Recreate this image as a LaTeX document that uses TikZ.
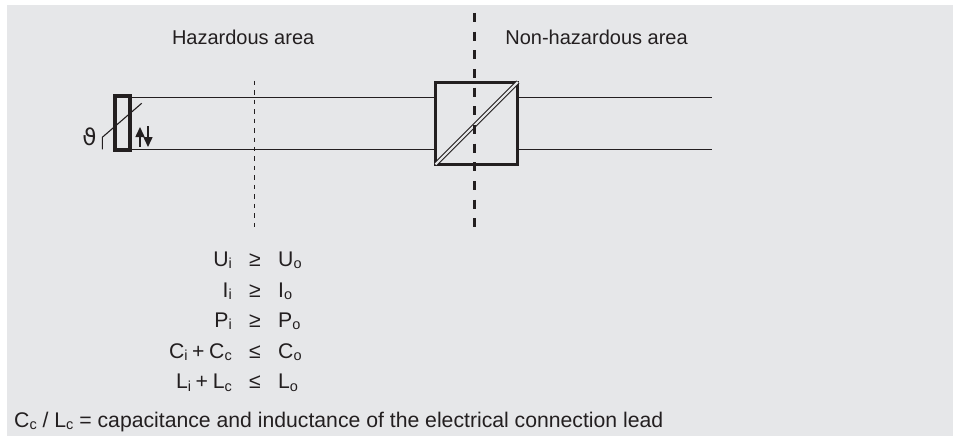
\documentclass[tikz,border=0pt]{standalone}
\usepackage{fontspec}
\setmainfont{Liberation Sans}
\newfontfamily\symfont{DejaVu Sans}
\usepackage{tikz}
\usetikzlibrary{arrows.meta}
\definecolor{panelgray}{HTML}{E6E7E9}
\definecolor{inkblack}{HTML}{231F20}
\tikzset{
  lbl/.style={inner sep=0pt,text=inkblack,font=\fontsize{21.2}{23}\selectfont},
  arealbl/.style={lbl,anchor=base west,font=\fontsize{20}{22}\selectfont},
  rellbl/.style={lbl,anchor=base east},
  lead/.style={draw=inkblack,line width=1.1pt},
  thick box/.style={draw=inkblack,fill=none,inner sep=0pt},
  bararrow/.style={draw=inkblack,line width=1.5pt,-{Triangle[length=10pt,width=9pt]}}
}
\newcommand{\lowtxt}[1]{\raisebox{-2.3pt}{\fontsize{14.5}{15}\selectfont #1}}
\newcommand{\plusgap}{\hspace{0.22em}+\hspace{0.22em}}
\begin{document}
\begin{tikzpicture}[x=1pt,y=-1pt]
    \useasboundingbox (0,0) rectangle (953,436);
    \fill [panelgray] (7,5) rectangle (953,436);
    % area labels
    \node [arealbl] (hazlbl) at (171.8,44.6) {Hazardous area};
    \node [arealbl] (safelbl) at (505.2,44.6) {Non-hazardous area};
    % sensor and barrier
    \node [thick box,line width=3.6pt,minimum width=15pt,minimum height=54pt] (sensor) at (122.5,123) {};
    \node [thick box,line width=3.2pt,minimum width=82pt,minimum height=82pt] (barrier) at (476.7,123.2) {};
    % free ends
    \coordinate (outtop) at (712,97.5);
    \coordinate (outbot) at (712,149.7);
    \coordinate (haztop) at (254.7,80.7);
    \coordinate (hazbot) at (254.7,227);
    \coordinate (divtop) at (474.3,13);
    \coordinate (divbot) at (474.3,227.4);
    \coordinate (senstail) at (102.3,149.3);
    \coordinate (senskink) at (102.3,137.3);
    \coordinate (senstip) at (141.7,103.3);
    \coordinate (uparrowbot) at (140,147);
    \coordinate (uparrowtop) at (140,127);
    \coordinate (downarrowtop) at (148,126);
    \coordinate (downarrowbot) at (148,147);
    % leads
    \draw [lead] (sensor.east |- outtop) -- (barrier.west |- outtop);
    \draw [lead] (sensor.east |- outbot) -- (barrier.west |- outbot);
    \draw [lead] (barrier.east |- outtop) -- (outtop);
    \draw [lead] (barrier.east |- outbot) -- (outbot);
    % boundaries
    \draw [draw=inkblack,line width=1pt,dash pattern=on 4.5pt off 4.97pt] (haztop) -- (hazbot);
    % isolation stripe
    \draw [draw=inkblack,line width=4.2pt,shorten <=2pt,shorten >=2pt] (barrier.south west) -- (barrier.north east);
    \draw [draw=panelgray,line width=2pt,shorten <=2pt,shorten >=2pt] (barrier.south west) -- (barrier.north east);
    \draw [draw=inkblack,line width=2.6pt,dash pattern=on 9pt off 9.67pt] (divtop) -- (divbot);
    % sensor symbol
    \draw [lead] (senstail) -- (senskink) -- (senstip);
    \node [lbl,anchor=base] (thetalbl) at (89.5,145) {\symfont\fontsize{23}{24}\selectfont ϑ};
    \draw [bararrow] (uparrowbot) -- (uparrowtop);
    \draw [bararrow] (downarrowtop) -- (downarrowbot);
    % conditions
    \node [rellbl] (ui) at (232,266.5) {U\lowtxt{i}};
    \node [rellbl] (ii) at (232,297) {I\lowtxt{i}};
    \node [rellbl] (pi) at (232,327.5) {P\lowtxt{i}};
    \node [rellbl] (cic) at (232,358.2) {C\lowtxt{i}\plusgap C\lowtxt{c}};
    \node [rellbl] (lic) at (232,388.8) {L\lowtxt{i}\plusgap L\lowtxt{c}};
    \node [lbl,anchor=base] (r1) at (255,266.5) {≥};
    \node [lbl,anchor=base] (r2) at (255,297) {≥};
    \node [lbl,anchor=base] (r3) at (255,327.5) {≥};
    \node [lbl,anchor=base] (r4) at (255,358.2) {≤};
    \node [lbl,anchor=base] (r5) at (255,388.8) {≤};
    \node [lbl,anchor=base west] (uo) at (278,266.5) {U\lowtxt{o}};
    \node [lbl,anchor=base west] (io) at (278,297) {I\lowtxt{o}};
    \node [lbl,anchor=base west] (po) at (278,327.5) {P\lowtxt{o}};
    \node [lbl,anchor=base west] (co) at (278,358.2) {C\lowtxt{o}};
    \node [lbl,anchor=base west] (lo) at (278,388.8) {L\lowtxt{o}};
    \node [lbl,anchor=base west] (note) at (14,427.3) {C\lowtxt{c} / L\lowtxt{c} = capacitance and inductance of the electrical connection lead};
\end{tikzpicture}
\end{document}
